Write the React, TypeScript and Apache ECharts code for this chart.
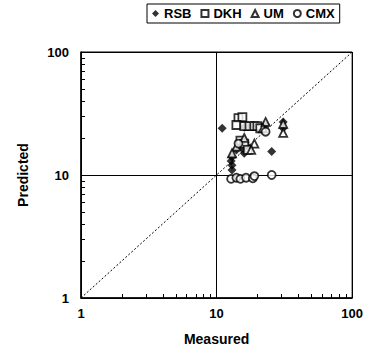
import React, { useEffect, useRef } from "react";
import * as echarts from "echarts";

const rsb: number[][] = [
  [11, 24], [14, 16], [15, 18], [16, 15], [13, 12], [13, 14], [13, 11], [12.8, 13],
  [25.5, 15.5], [31, 24], [31, 27], [18, 25], [16, 24.5], [23, 25.5], [17, 17], [15.5, 16.5],
];
const dkh: number[][] = [
  [14.5, 29], [15.5, 29.5], [14, 25.5], [16, 25], [17.5, 25], [19, 25], [15, 19],
  [16, 18], [17, 16], [20, 25], [21, 24],
];
const um: number[][] = [
  [23, 27], [31, 26], [31, 22], [19, 18], [18, 16], [14, 17], [13, 15], [16, 20], [22, 24],
];
const cmx: number[][] = [
  [12.8, 9.3], [14, 9.5], [15, 9.3], [16.5, 9.5], [18.5, 9.4], [19, 9.8], [25.5, 10],
  [23, 22.5], [14.5, 18],
];
const minorTicks: number[] = [2, 3, 4, 5, 6, 7, 8, 9, 20, 30, 40, 50, 60, 70, 80, 90];
const diagonal: number[][] = [[1, 1], [100, 100]];

const FONT = "Liberation Sans, Arial, sans-serif";

export default function App() {
  const ref = useRef<HTMLDivElement>(null);
  useEffect(() => {
    if (!ref.current) return;
    const chart = echarts.init(ref.current, null, { renderer: "svg" });
    chart.setOption({
      animation: false,
      backgroundColor: "#fff",
      textStyle: { fontFamily: FONT },
      legend: {
        left: 147,
        top: 4,
        itemGap: 9,
        itemWidth: 7,
        itemHeight: 7,
        padding: [3, 5, 3, 5],
        borderColor: "#000",
        borderWidth: 1,
        data: ["RSB", "DKH", "UM", "CMX"],
        textStyle: { fontFamily: FONT, fontWeight: "bold", fontSize: 13, color: "#000" },
      },
      grid: { left: 81, right: 10, top: 52, bottom: 55, show: true, borderColor: "#000", borderWidth: 1 },
      xAxis: {
        type: "log",
        logBase: 10,
        min: 1,
        max: 100,
        name: "Measured",
        nameLocation: "middle",
        nameGap: 34,
        nameTextStyle: { fontFamily: FONT, fontWeight: "bold", fontSize: 14, color: "#000" },
        axisLine: { lineStyle: { color: "#000", width: 1.5 } },
        axisTick: { show: true, inside: true, length: 4, lineStyle: { color: "#000" } },
        axisLabel: { fontFamily: FONT, fontWeight: "bold", fontSize: 13, color: "#000", margin: 9 },
        splitLine: { show: true, lineStyle: { color: "#000", width: 1 } },
      },
      yAxis: {
        type: "log",
        logBase: 10,
        min: 1,
        max: 100,
        name: "Predicted",
        nameLocation: "middle",
        nameGap: 51,
        nameTextStyle: { fontFamily: FONT, fontWeight: "bold", fontSize: 14, color: "#000" },
        axisLine: { lineStyle: { color: "#000", width: 1.5 } },
        axisTick: { show: true, inside: true, length: 4, lineStyle: { color: "#000" } },
        axisLabel: { fontFamily: FONT, fontWeight: "bold", fontSize: 13, color: "#000", margin: 12 },
        splitLine: { show: true, lineStyle: { color: "#000", width: 1 } },
      },
      series: [
        {
          type: "line",
          data: diagonal,
          symbol: "none",
          silent: true,
          lineStyle: { color: "#000", width: 1, type: [2, 2] },
          z: 1,
        },
        {
          name: "RSB",
          type: "scatter",
          data: rsb,
          symbol: "diamond",
          symbolSize: 9,
          itemStyle: { color: "#000" },
          z: 3,
        },
        {
          name: "DKH",
          type: "scatter",
          data: dkh,
          symbol: "rect",
          symbolSize: 8,
          itemStyle: { color: "#fff", borderColor: "#000", borderWidth: 1.8 },
          z: 3,
        },
        {
          name: "UM",
          type: "scatter",
          data: um,
          symbol: "triangle",
          symbolSize: 8,
          itemStyle: { color: "#fff", borderColor: "#000", borderWidth: 1.8 },
          z: 3,
        },
        {
          name: "CMX",
          type: "scatter",
          data: cmx,
          symbol: "circle",
          symbolSize: 8,
          itemStyle: { color: "#fff", borderColor: "#000", borderWidth: 1.8 },
          z: 3,
        },
      ],
    });
    const elements: any[] = [];
    minorTicks.forEach((v) => {
      const px = chart.convertToPixel({ gridIndex: 0 }, [v, 1]) as number[];
      const py = chart.convertToPixel({ gridIndex: 0 }, [1, v]) as number[];
      if (px && isFinite(px[0])) {
        const x = Math.round(px[0]) + 0.5;
        elements.push({
          type: "line",
          shape: { x1: x, y1: px[1], x2: x, y2: px[1] - 4 },
          style: { stroke: "#000", lineWidth: 1 },
          silent: true,
          z: 10,
        });
      }
      if (py && isFinite(py[1])) {
        const y = Math.round(py[1]) + 0.5;
        elements.push({
          type: "line",
          shape: { x1: py[0], y1: y, x2: py[0] + 4, y2: y },
          style: { stroke: "#000", lineWidth: 1 },
          silent: true,
          z: 10,
        });
      }
    });
    chart.setOption({ graphic: { elements } });
    return () => chart.dispose();
  }, []);
  return <div ref={ref} style={{ width: 366, height: 353, position: "absolute", left: 0, top: 0 }} />;
}
